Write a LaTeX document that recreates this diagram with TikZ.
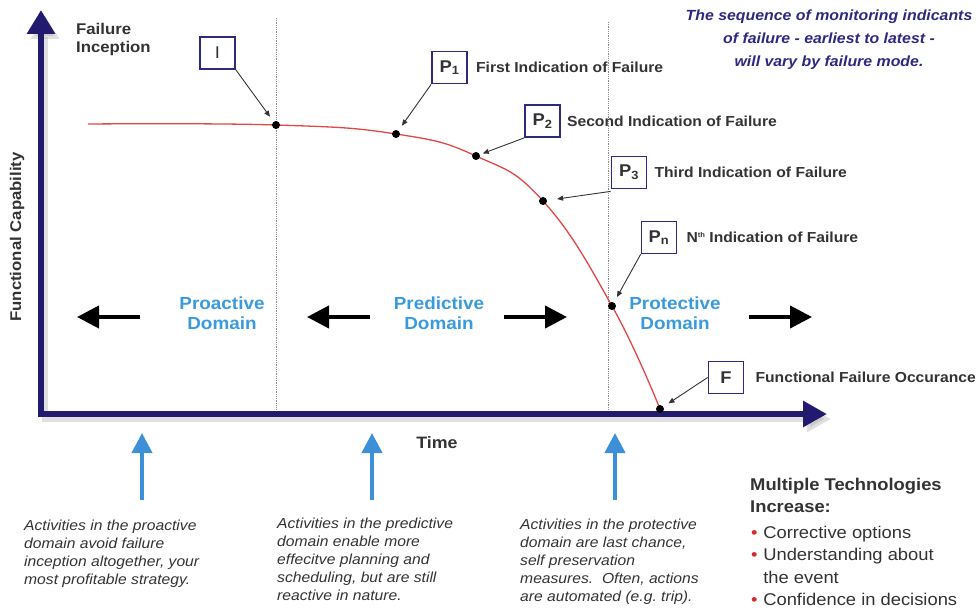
\documentclass[tikz,border=0pt]{standalone}
\usepackage{fontspec}
\setmainfont{Liberation Sans}[FakeStretch=1.08]
\usepackage{tikz}
\usetikzlibrary{
  arrows.meta,
  positioning
}
\definecolor{AxisNavy}{HTML}{221A6E}
\definecolor{BoxNavy}{HTML}{2E2A7E}
\definecolor{NoteNavy}{HTML}{2D2882}
\definecolor{DomainBlue}{HTML}{3A9BDC}
\definecolor{ArrowBlue}{HTML}{3D8FD8}
\definecolor{CurveRed}{HTML}{E04848}
\definecolor{BulletRed}{HTML}{D42A2A}
\definecolor{TextGrey}{HTML}{333333}
\newcommand{\fsz}[2]{\fontsize{#1}{#2}\selectfont}

\begin{document}
\begin{tikzpicture}[
  x=1pt,y=-1pt,
  every node/.style={text=TextGrey,inner sep=0pt},
  axisline/.style={draw=AxisNavy,line width=6.5pt,line join=miter,
    {Triangle[length=24pt,width=27pt]}-{Triangle[length=24pt,width=25pt]}},
  axisshadow/.style={axisline,draw=black!35,opacity=.35},
  divider/.style={draw=black!45,densely dotted,line width=.8pt},
  failcurve/.style={draw=CurveRed,line width=1.3pt},
  curvedot/.style={circle,fill=black,minimum size=8pt},
  markbox/.style={draw=BoxNavy,line width=1.8pt,fill=white,
    minimum width=35pt,minimum height=32pt,font=\fsz{17}{20}\bfseries},
  marklabel/.style={font=\fsz{14.5}{17}\bfseries},
  leaderarrow/.style={draw=TextGrey,line width=.9pt,
    -{Triangle[length=6pt,width=5pt]},shorten >=6pt},
  domlabel/.style={text=DomainBlue,align=center,font=\fsz{17.5}{20.5}\bfseries},
  domarrow/.style={draw=black,line width=4pt,-{Triangle[length=22pt,width=22pt]}},
  uparrow/.style={draw=ArrowBlue,line width=4pt,-{Triangle[length=20pt,width=20pt]}},
  actnote/.style={align=left,anchor=north west,font=\fsz{14.5}{18}\itshape}
]
\useasboundingbox (0,0) rectangle (979,610);

% axes
\coordinate (yTop) at (41,10);
\coordinate (origin) at (41,414);
\coordinate (xEnd) at (827,414);
\draw[axisshadow] ([shift={(4,5)}]yTop) -- ([shift={(4,5)}]origin) -- ([shift={(4,5)}]xEnd);
\draw[divider] (276,18) -- (276,410);
\draw[divider] (608,22) -- (608,410);
\draw[axisline] (yTop) -- (origin) -- (xEnd);

\node[anchor=north west,align=left,font=\fsz{15.5}{18.3}\bfseries] (inception) at (76,23)
  {Failure\\Inception};
\node[rotate=90,font=\fsz{15.5}{18}\bfseries] (capability) at (17,237) {Functional Capability};
\node[font=\fsz{16.5}{20}\bfseries] (time) at (437,443) {Time};

% failure curve
\coordinate (pStart) at (88,124);
\coordinate (pI) at (276,125);
\coordinate (pP1) at (396,134);
\coordinate (pP2) at (476,156);
\coordinate (pP3) at (543,201);
\coordinate (pPn) at (612,306);
\coordinate (pF) at (660,409);
\draw[failcurve] plot[smooth,tension=.75] coordinates
  {(pStart) (pI) (pP1) (pP2) (pP3) (pPn) (pF)};
\foreach \p in {I,P1,P2,P3,Pn,F}
  \node[curvedot] (dot\p) at (p\p) {};

% indication boxes
\node[markbox,font=\fsz{17}{20}\mdseries] (boxI) at (217.5,53) {I};
\node[markbox] (boxP1) at (449.5,67.5) {P\textsubscript{1}};
\node[markbox] (boxP2) at (542.5,121) {P\textsubscript{2}};
\node[markbox] (boxP3) at (629,172.5) {P\textsubscript{3}};
\node[markbox] (boxPn) at (659,237.5) {P\textsubscript{n}};
\node[markbox] (boxF) at (726,377.5) {F};

\node[marklabel,right=8pt of boxP1] (labP1) {First Indication of Failure};
\node[marklabel,right=6pt of boxP2] (labP2) {Second Indication of Failure};
\node[marklabel,right=7pt of boxP3] (labP3) {Third Indication of Failure};
\node[marklabel,right=9pt of boxPn] (labPn) {N{\fsz{7}{8}\raisebox{5pt}{th}} Indication of Failure};
\node[marklabel,right=11pt of boxF] (labF) {Functional Failure Occurance};

\draw[leaderarrow] (boxI.south east) -- (dotI);
\draw[leaderarrow] (boxP1.south west) -- (dotP1);
\draw[leaderarrow,shorten >=3pt] (boxP2.south west) -- (dotP2);
\draw[leaderarrow,shorten >=10pt] ([yshift=-2pt]boxP3.south west) -- (dotP3);
\draw[leaderarrow] (boxPn.south west) -- (dotPn);
\draw[leaderarrow] (boxF.west) -- (dotF);

% domains
\node[domlabel] (proactive) at (222,313) {Proactive\\Domain};
\node[domlabel] (predictive) at (439,313) {Predictive\\Domain};
\node[domlabel] (protective) at (675,313) {Protective\\Domain};

\coordinate (proTail) at (140,317);  \coordinate (proTip) at (77,317);
\coordinate (preTailL) at (370,317); \coordinate (preTipL) at (307,317);
\coordinate (preTailR) at (504,317); \coordinate (preTipR) at (567,317);
\coordinate (protTail) at (749,317); \coordinate (protTip) at (812,317);
\foreach \t/\h in {proTail/proTip,preTailL/preTipL,preTailR/preTipR,protTail/protTip}
  \draw[domarrow] (\t) -- (\h);

% activity notes
\foreach \n/\x in {A/142,B/372,C/615}{
  \coordinate (up\n Tail) at (\x,500);
  \coordinate (up\n Tip) at (\x,433);
  \draw[uparrow] (up\n Tail) -- (up\n Tip);
}
\node[actnote] (noteProactive) at (24,520)
  {Activities in the proactive\\domain avoid failure\\inception altogether, your\\most profitable strategy.};
\node[actnote] (notePredictive) at (277,518)
  {Activities in the predictive\\domain enable more\\effecitve planning and\\scheduling, but are still\\reactive in nature.};
\node[actnote] (noteProtective) at (520,519)
  {Activities in the protective\\domain are last chance,\\self preservation\\measures.\ \ Often, actions\\are automated (e.g.\ trip).};

% sequence note and technologies
\node[text=NoteNavy,align=center,font=\fsz{14.7}{23}\bfseries\itshape] (sequence) at (829,40)
  {The sequence of monitoring indicants\\of failure - earliest to latest -\\will vary by failure mode.};
\node[anchor=north west,align=left,font=\fsz{17}{21.7}\bfseries] (multitech) at (750,478)
  {Multiple Technologies\\Increase:};
\node[anchor=north west,align=left,font=\fsz{17}{22.3}] (benefits) at (751,526)
  {{\color{BulletRed}\textbullet}\,\,Corrective options\\
   {\color{BulletRed}\textbullet}\,\,Understanding about\\
   \phantom{\textbullet}\,\,the event\\
   {\color{BulletRed}\textbullet}\,\,Confidence in decisions};
\end{tikzpicture}
\end{document}
